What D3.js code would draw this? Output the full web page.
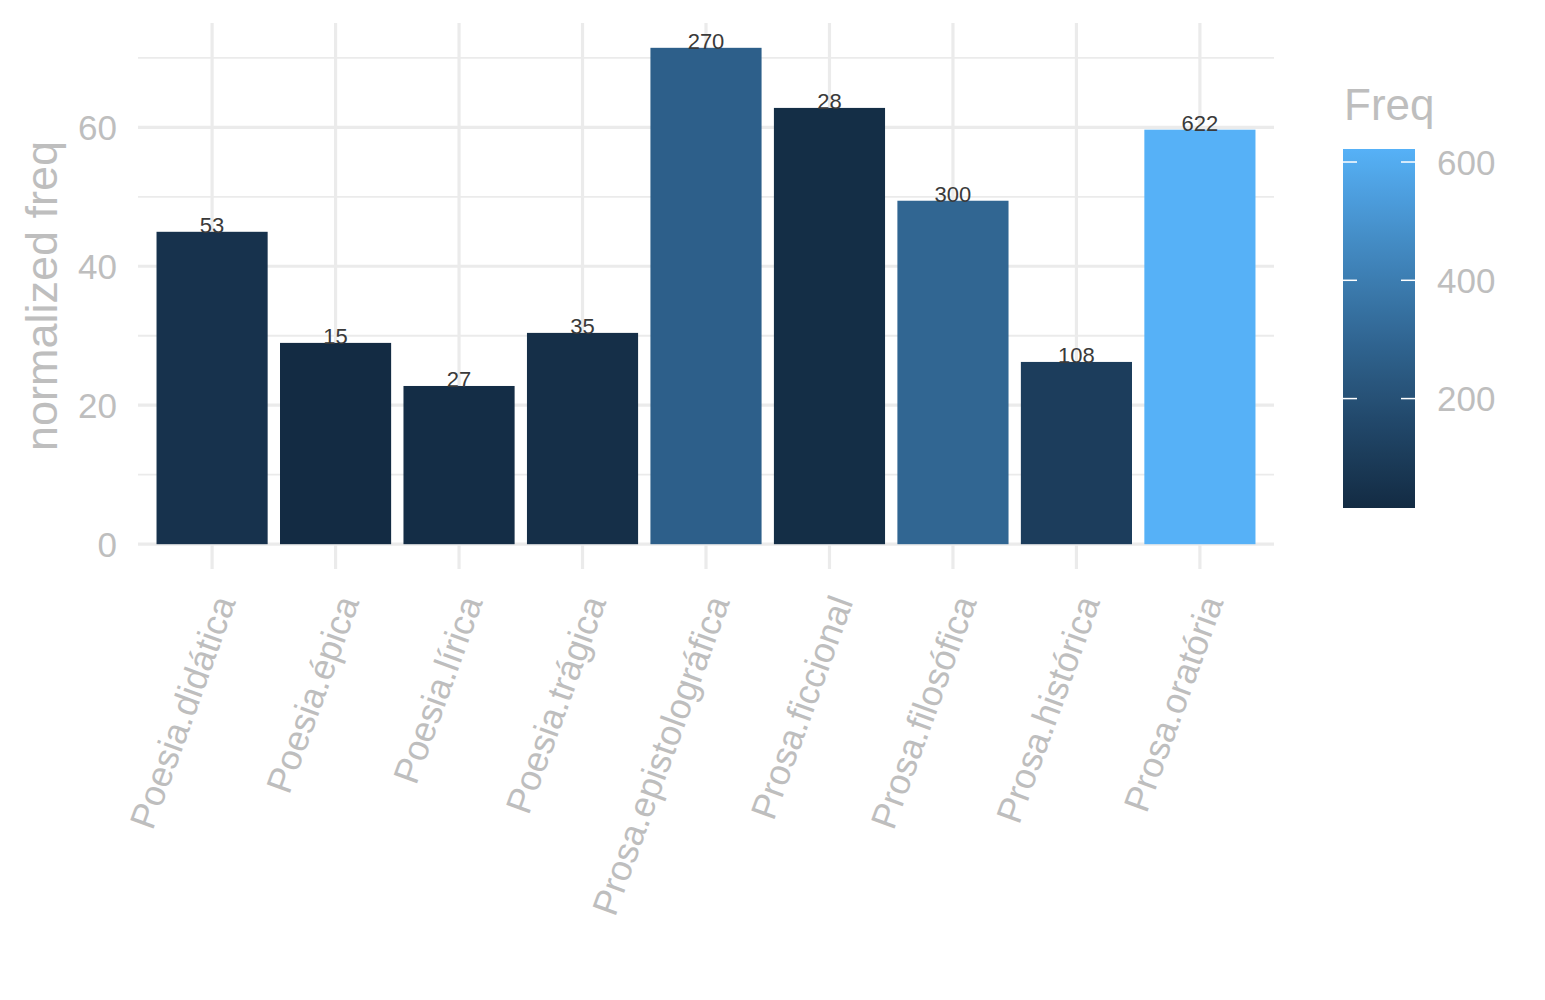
<!DOCTYPE html>
<html>
<head>
<meta charset="utf-8">
<script src="https://cdn.jsdelivr.net/npm/d3@7"></script>
<style>
  html, body { margin: 0; padding: 0; background: #fff; }
  svg { display: block; font-family: "Liberation Sans", Arial, Helvetica, sans-serif; }
</style>
</head>
<body>
<svg id="chart" width="1545" height="1000"></svg>
<script>
// ---- data ----
const categories = ["Poesia.didática", "Poesia.épica", "Poesia.lírica", "Poesia.trágica",
  "Prosa.epistolográfica", "Prosa.ficcional", "Prosa.filosófica", "Prosa.histórica", "Prosa.oratória"];
const normFreq = [44.96, 28.97, 22.77, 30.41, 71.44, 62.79, 49.43, 26.23, 59.66];
const freq = [53, 15, 27, 35, 270, 28, 300, 108, 622];
const yTicks = [0, 20, 40, 60];
const yMinor = [10, 30, 50, 70];
const legendTicks = [200, 400, 600];

// ---- layout ----
const svg = d3.select("#chart");
const panel = { left: 138, right: 1274, top: 23, bottom: 569 };
const textGrey = "#BEBEBE";
const gridCol = "#EBEBEB";

const yMax = d3.max(normFreq);
const yExp = yMax * 0.05;
const y = d3.scaleLinear().domain([-yExp, yMax + yExp]).range([panel.bottom, panel.top]);
const x = d3.scalePoint().domain(categories).range([panel.left, panel.right]).padding(0.6);
const barW = x.step() * 0.9;

const color = d3.scaleLinear()
  .domain([d3.min(freq), d3.max(freq)])
  .range(["#132B43", "#56B1F7"])
  .interpolate(d3.interpolateLab);

// ---- grid ----
const g = svg.append("g");
g.selectAll(".minor").data(yMinor).join("line")
  .attr("x1", panel.left).attr("x2", panel.right)
  .attr("y1", d => y(d)).attr("y2", d => y(d))
  .attr("stroke", gridCol).attr("stroke-width", 1.8);
g.selectAll(".major").data(yTicks).join("line")
  .attr("x1", panel.left).attr("x2", panel.right)
  .attr("y1", d => y(d)).attr("y2", d => y(d))
  .attr("stroke", gridCol).attr("stroke-width", 3.2);
g.selectAll(".vgrid").data(categories).join("line")
  .attr("x1", d => x(d)).attr("x2", d => x(d))
  .attr("y1", panel.top).attr("y2", panel.bottom)
  .attr("stroke", gridCol).attr("stroke-width", 3.2);

// ---- bars ----
const rows = categories.map((c, i) => ({ c, v: normFreq[i], f: freq[i] }));
svg.append("g").selectAll("rect").data(rows).join("rect")
  .attr("x", d => x(d.c) - barW / 2)
  .attr("width", barW)
  .attr("y", d => y(d.v))
  .attr("height", d => y(0) - y(d.v))
  .attr("fill", d => color(d.f));

// bar labels
svg.append("g").selectAll("text").data(rows).join("text")
  .attr("x", d => x(d.c))
  .attr("y", d => y(d.v) + 1)
  .attr("text-anchor", "middle")
  .attr("font-size", 22)
  .attr("fill", "#3a3a3a")
  .text(d => d.f);

// ---- y axis ----
svg.append("g").selectAll("text").data(yTicks).join("text")
  .attr("x", 117)
  .attr("y", d => y(d))
  .attr("dy", "0.36em")
  .attr("text-anchor", "end")
  .attr("font-size", 35)
  .attr("fill", textGrey)
  .text(d => d);

svg.append("text")
  .attr("transform", `translate(57,${(panel.top + panel.bottom) / 2}) rotate(-90)`)
  .attr("text-anchor", "middle")
  .attr("font-size", 45)
  .attr("fill", textGrey)
  .text("normalized freq");

// ---- x axis ----
svg.append("g").selectAll("text").data(categories).join("text")
  .attr("transform", d => `translate(${x(d)},593) rotate(-70)`)
  .attr("text-anchor", "end")
  .attr("dy", "0.71em")
  .attr("font-size", 36)
  .attr("fill", textGrey)
  .text(d => d);

// ---- legend ----
const lg = { x: 1343, w: 72, top: 149, bottom: 508 };
const ly = d3.scaleLinear().domain([d3.min(freq), d3.max(freq)]).range([lg.bottom, lg.top]);
const defs = svg.append("defs");
const grad = defs.append("linearGradient").attr("id", "cbar")
  .attr("x1", 0).attr("y1", 1).attr("x2", 0).attr("y2", 0);
d3.range(0, 21).forEach(i => {
  const t = i / 20;
  grad.append("stop").attr("offset", t)
    .attr("stop-color", color(d3.min(freq) + t * (d3.max(freq) - d3.min(freq))));
});
svg.append("rect")
  .attr("x", lg.x).attr("y", lg.top).attr("width", lg.w).attr("height", lg.bottom - lg.top)
  .attr("fill", "url(#cbar)");
const lt = svg.append("g");
lt.selectAll(".tl").data(legendTicks).join("line")
  .attr("x1", lg.x).attr("x2", lg.x + 14)
  .attr("y1", d => ly(d)).attr("y2", d => ly(d))
  .attr("stroke", "#fff").attr("stroke-width", 1.5);
lt.selectAll(".tr").data(legendTicks).join("line")
  .attr("x1", lg.x + lg.w - 14).attr("x2", lg.x + lg.w)
  .attr("y1", d => ly(d)).attr("y2", d => ly(d))
  .attr("stroke", "#fff").attr("stroke-width", 1.5);
lt.selectAll("text").data(legendTicks).join("text")
  .attr("x", 1437)
  .attr("y", d => ly(d))
  .attr("dy", "0.36em")
  .attr("font-size", 35)
  .attr("fill", textGrey)
  .text(d => d);
svg.append("text")
  .attr("x", 1344).attr("y", 120)
  .attr("font-size", 44)
  .attr("fill", textGrey)
  .text("Freq");
</script>
</body>
</html>
